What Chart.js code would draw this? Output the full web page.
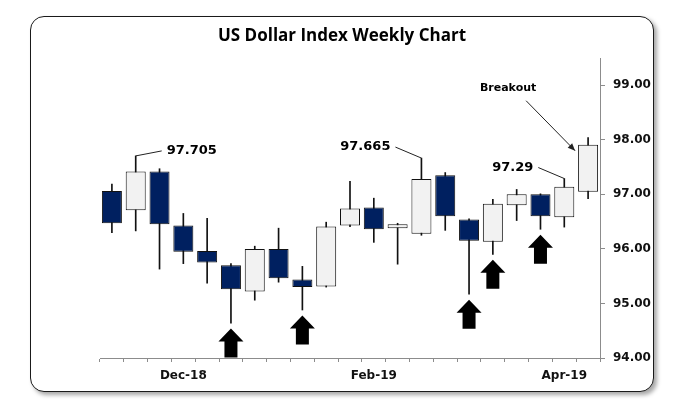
<!DOCTYPE html>
<html lang="en">
<head>
  <meta charset="UTF-8">
  <script src="https://cdn.jsdelivr.net/npm/chart.js@4.4.1/dist/chart.umd.min.js"></script>
  <title>US Dollar Index Weekly Chart</title>
  <style>
    body { margin: 0; background: #fff; }
    .frame {
      position: absolute;
      left: 30px; top: 16px;
      width: 624px; height: 376px;
      box-sizing: border-box;
      border: 1.5px solid #1a1a1a;
      border-radius: 14px;
      box-shadow: 3px 3px 4px rgba(0, 0, 0, 0.35);
      background: #fff;
    }
    .chart-box {
      position: absolute;
      left: 0; top: 0;
      width: 695px; height: 411px;
    }
  </style>
</head>
<body>
  <div class="frame"></div>
  <div class="chart-box">
    <canvas id="dxyChart" width="695" height="411"></canvas>
  </div>

  <script>
    // weekly candles
    const weekLabels = ['', '', '', 'Dec-18', '', '', '', '', '', '', '', 'Feb-19', '', '', '', '', '', '', '', 'Apr-19', ''];
    const opens  = [97.06, 96.71, 97.42, 96.43, 95.96, 95.70, 95.22, 96.00, 95.44, 95.31, 96.43, 96.76, 96.38, 96.28, 97.35, 96.54, 96.13, 96.80, 97.00, 96.58, 97.05];
    const highs  = [97.19, 97.705, 97.47, 96.65, 96.56, 95.73, 96.05, 96.38, 95.68, 96.49, 97.24, 96.93, 96.47, 97.665, 97.40, 96.55, 96.91, 97.09, 97.01, 97.29, 98.04];
    const lows   = [96.30, 96.33, 95.63, 95.73, 95.37, 94.64, 95.06, 95.39, 94.88, 95.30, 96.41, 96.12, 95.72, 96.25, 96.34, 95.17, 95.90, 96.52, 96.36, 96.40, 96.92];
    const closes = [96.47, 97.42, 96.45, 95.95, 95.75, 95.26, 96.00, 95.46, 95.30, 96.41, 96.74, 96.36, 96.45, 97.28, 96.60, 96.15, 96.83, 97.00, 96.60, 97.14, 97.91];

    const yTicksMin = 94;
    const yTicksMax = 99.5;

    // marked weeks
    const arrowWeeks = [5, 8, 15, 16, 18];
    const calloutWeeks = [1, 13, 19];
    const calloutTexts = ['97.705', '97.665', '97.29'];
    const breakoutWeek = 20;
    const breakoutText = 'Breakout';
    const chartTitle = 'US Dollar Index Weekly Chart';

    const DARK = '#002060';
    const LIGHT = '#f2f2f2';

    const bodies = opens.map((o, i) => [o, closes[i]]);
    const wicks = lows.map((l, i) => [l, highs[i]]);
    const bodyColors = opens.map((o, i) => closes[i] < o ? DARK : LIGHT);

    const overlayPlugin = {
      id: 'overlay',
      afterDraw(chart) {
        const ctx = chart.ctx;
        const x = chart.scales.x;
        const y = chart.scales.y;
        ctx.save();

        // title
        ctx.fillStyle = '#000';
        ctx.font = 'bold 17px "Open Sans"';
        ctx.textAlign = 'center';
        ctx.textBaseline = 'middle';
        ctx.fillText(chartTitle, 342, 36);

        // up arrows under the lows
        ctx.fillStyle = '#000';
        arrowWeeks.forEach(i => {
          const cx = x.getPixelForValue(i);
          const top = y.getPixelForValue(lows[i]) + 5.5;
          ctx.beginPath();
          ctx.moveTo(cx, top);
          ctx.lineTo(cx + 12.5, top + 13);
          ctx.lineTo(cx + 6.5, top + 13);
          ctx.lineTo(cx + 6.5, top + 29);
          ctx.lineTo(cx - 6.5, top + 29);
          ctx.lineTo(cx - 6.5, top + 13);
          ctx.lineTo(cx - 12.5, top + 13);
          ctx.closePath();
          ctx.fill();
        });

        // callouts
        ctx.strokeStyle = '#222';
        ctx.lineWidth = 1;
        ctx.font = 'bold 13px "DejaVu Sans"';
        ctx.textBaseline = 'middle';
        calloutWeeks.forEach((i, k) => {
          const cx = x.getPixelForValue(i);
          const cy = y.getPixelForValue(highs[i]);
          const dir = k === 0 ? 1 : -1;
          const ex = cx + dir * 26;
          const ey = cy - (k === 0 ? 5 : 11);
          ctx.beginPath();
          ctx.moveTo(cx, cy);
          ctx.lineTo(ex, ey);
          ctx.stroke();
          ctx.fillStyle = '#000';
          ctx.textAlign = dir > 0 ? 'left' : 'right';
          ctx.fillText(calloutTexts[k], ex + dir * 5, ey);
        });

        // breakout label with arrow
        const bx = x.getPixelForValue(breakoutWeek) - 13;
        const by = y.getPixelForValue(Math.max(opens[breakoutWeek], closes[breakoutWeek])) + 6;
        ctx.font = 'bold 11px "DejaVu Sans"';
        ctx.textAlign = 'center';
        ctx.fillText(breakoutText, bx - 67, by - 63);
        const sx = bx - 49, sy = by - 50;
        ctx.beginPath();
        ctx.moveTo(sx, sy);
        ctx.lineTo(bx, by);
        ctx.stroke();
        const ang = Math.atan2(by - sy, bx - sx);
        ctx.beginPath();
        ctx.moveTo(bx, by);
        ctx.lineTo(bx - 8 * Math.cos(ang - 0.4), by - 8 * Math.sin(ang - 0.4));
        ctx.lineTo(bx - 8 * Math.cos(ang + 0.4), by - 8 * Math.sin(ang + 0.4));
        ctx.closePath();
        ctx.fillStyle = '#222';
        ctx.fill();

        ctx.restore();
      }
    };

    new Chart(document.getElementById('dxyChart'), {
      type: 'bar',
      data: {
        labels: weekLabels,
        datasets: [
          {
            label: 'Range',
            data: wicks,
            backgroundColor: '#111',
            barThickness: 1,
            grouped: false,
            order: 2
          },
          {
            label: 'Body',
            data: bodies,
            backgroundColor: bodyColors,
            borderColor: '#111',
            borderWidth: 1,
            borderSkipped: false,
            barPercentage: 0.84,
            categoryPercentage: 1,
            grouped: false,
            order: 1
          }
        ]
      },
      options: {
        responsive: false,
        animation: false,
        layout: { padding: { top: 58, left: 100, right: 0, bottom: 0 } },
        plugins: {
          legend: { display: false },
          title: { display: false },
          tooltip: { enabled: false }
        },
        scales: {
          x: {
            grid: { drawOnChartArea: false, drawTicks: true, tickLength: 4, color: '#8c8c8c' },
            border: { color: '#8c8c8c', width: 1 },
            ticks: {
              autoSkip: false,
              maxRotation: 0,
              padding: 7,
              color: '#111',
              font: { family: 'DejaVu Sans', size: 12, weight: 'bold' }
            },
            afterFit(scale) { scale.height = 53; }
          },
          y: {
            position: 'right',
            min: yTicksMin,
            max: yTicksMax,
            grid: { drawOnChartArea: false, drawTicks: true, tickLength: 5, color: '#8c8c8c' },
            border: { color: '#8c8c8c', width: 1 },
            ticks: {
              stepSize: 1,
              includeBounds: false,
              padding: 8,
              color: '#111',
              font: { family: 'DejaVu Sans', size: 12, weight: 'bold' },
              callback: v => v.toFixed(2)
            },
            afterFit(scale) { scale.width = 95; }
          }
        }
      },
      plugins: [overlayPlugin]
    });
  </script>
</body>
</html>
